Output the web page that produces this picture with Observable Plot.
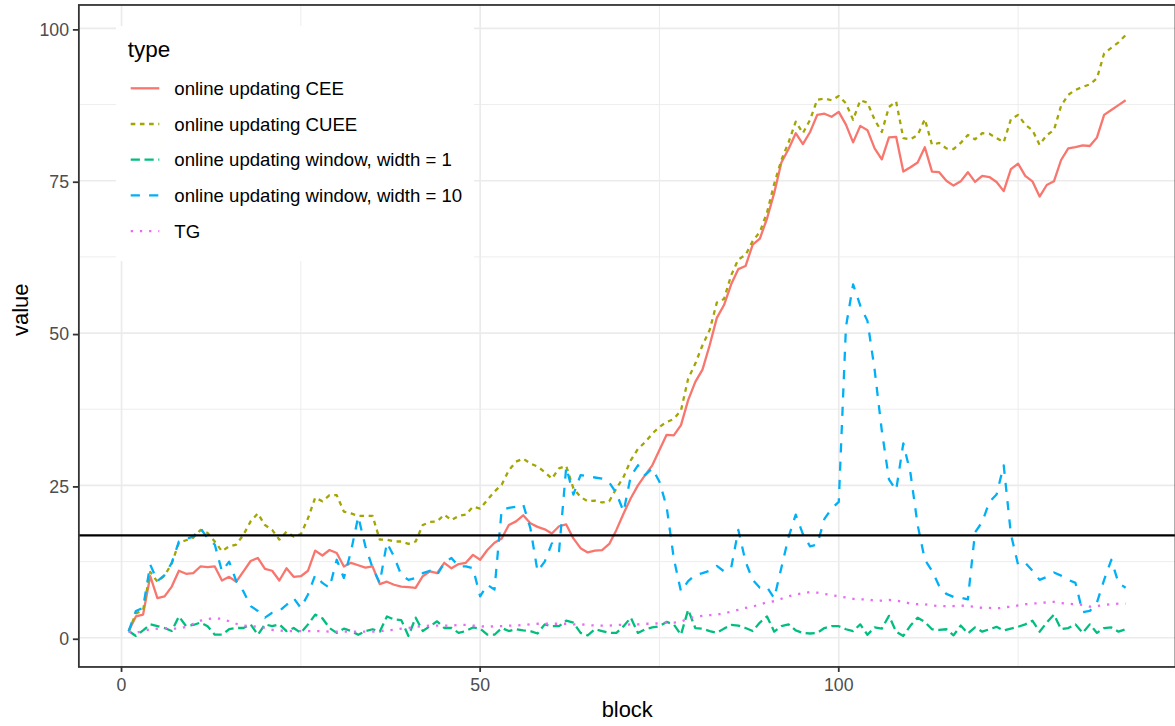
<!DOCTYPE html>
<html>
<head>
<meta charset="utf-8">
<script src="https://cdn.jsdelivr.net/npm/d3@7"></script>
<script src="https://cdn.jsdelivr.net/npm/@observablehq/plot@0.6"></script>
<style>
  html, body { margin: 0; padding: 0; background: #fff; overflow: hidden; }
  #chart { position: relative; width: 1175px; height: 726px; overflow: hidden; background: #fff; }
  #legend { position: absolute; left: 116px; top: 26px; }
</style>
</head>
<body>
<div id="chart"></div>
<script>
// ---- data -------------------------------------------------------------
const blocks = d3.range(1, 141);

const types = [
  "online updating CEE",
  "online updating CUEE",
  "online updating window, width = 1",
  "online updating window, width = 10",
  "TG"
];

const cee = [1.1,3.5,3.8,10.1,6.5,6.8,8.4,11,10.5,10.6, 11.7,11.6,11.7,9.4,10,9.2,10.9,12.6,13.1,11.3,
  11,9.4,11.4,10,10.1,11,14.3,13.5,14.4,13.9, 11.7,12.3,11.9,11.5,11.7,8.8,9.2,8.7,8.4,8.3,
  8.2,10.1,10.9,10.6,12.3,11.4,12.1,12.3,13.6,12.8, 14.4,15.6,16.3,18.5,19.1,20.1,18.8,18.2,17.8,17.1,
  18.3,18.6,16.3,14.7,14,14.3,14.4,15.4,17.7,20.4, 22.9,25,26.7,28.3,30.8,33.3,33.2,34.9,39,42,
  44,48,52.5,54.6,58,60.5,61,64.5,65.5,68.8, 73,78,80.2,82.8,81,83,85.8,86,85.5,86.3,
  84.2,81.3,84,83.3,80.3,78.5,82.1,82.2,76.5,77.2, 78,80.5,76.5,76.4,75,74.2,74.9,76.4,74.8,75.8,
  75.6,74.8,73.3,76.9,77.8,75.8,74.9,72.4,74.3,74.9, 78.4,80.3,80.5,80.8,80.7,82.1,85.8,86.6,87.4,88.2];

const cuee = [1.1,4.0,4.5,10.8,9.2,10.2,12.2,15.6,16,16.4, 17.7,17.2,15.8,14.2,15,15.3,16.9,19.1,20.4,18.5,
  17.7,16.1,17.4,16.6,17,19.6,23,22.4,23.4,23.4, 20.7,20.4,20,20,20,16.1,16.1,15.8,15.8,15.4,
  15.8,18.5,19,19.1,20.2,19.3,20,20.2,21.5,21.2, 22.6,24,25.1,27.5,28.9,29.4,28.6,28.1,27.2,26.1,
  27.8,28.2,24.5,23.1,22.4,22.5,22.2,22.4,24.5,26.4, 29.1,31,32.1,33.5,34.6,35.4,35.9,37.3,42.5,45,
  48,50.5,55,55.6,59.5,62.1,62.8,65.1,66.6,69.8, 74.5,78.4,81.3,84.7,82.8,85,88.3,88.5,88.2,88.9,
  87.7,85,88.2,87.8,85,83,87.1,88,82,81.8, 82.5,85.1,80.9,81.2,80.3,80.2,81.2,82.5,81.8,82.8,
  82.7,82,81.3,85.1,85.8,84.2,83.3,80.9,82.5,83.3, 87.3,89.1,89.9,90.4,90.8,91.8,95.9,96.8,97.7,98.9];

const window1 = [1.1,0.3,1.2,2.2,1.9,1.6,1.1,3.5,1.9,2.1, 2.5,1.9,0.5,0.5,1.4,1.6,1.6,2.2,0.5,2.2,
  1.9,2.2,1.1,1.6,0.8,2.2,3.8,3.2,1.6,0.8, 1.5,1.1,0.5,1.1,1.4,1.0,3.5,3.0,2.9,0.3,
  3.3,1.1,1.9,2.7,1.6,1.6,0.8,1.1,1.7,1.5, 0.5,0.5,1.6,1.1,1.4,1.2,1.1,0.7,2.2,1.9,
  1.9,2.8,2.5,0.8,0.4,1.4,1.1,0.8,0.8,1.9, 3.3,0.8,1.4,1.7,1.9,2.6,2.2,0.5,4.6,1.6,
  1.5,1.1,0.8,1.5,2.1,2.0,1.6,1.1,2.5,3.5, 1.0,1.9,2.2,1.2,0.8,0.7,0.8,1.6,1.9,1.9,
  1.4,1.1,2.2,0.5,1.7,1.5,3.6,1.0,0.3,2.0, 3.3,2.6,1.4,1.3,1.4,0.4,2.0,0.7,1.7,1.0,
  1.4,1.8,1.2,1.5,1.8,2.2,2.8,1.0,2.5,3.8, 1.4,1.6,2.2,0.8,2.2,0.8,1.6,1.7,1.0,1.4];

const window10 = [1.1,4.4,4.9,12,9.3,10.3,12.3,15.8,16.2,16.6, 18,16.3,15.3,10.9,12.5,9.3,7.6,5.2,4.4,3.3,
  4.1,4.4,5.4,6.5,4.9,7.1,10.3,9,8.2,12.8, 9.8,14.2,19.9,15,11.5,9,15.6,13.3,10.3,9.5,
  9.8,10.6,11,10.3,12.3,13.1,11.7,11.7,11.4,6.8, 8.7,7.9,21,21.3,21.5,21.9,18,10.9,12.5,15.5,
  14.2,28,23.5,26.7,26.5,26.3,26.1,25.5,23.7,20.7, 26.5,28.3,26.7,27.8,25.6,21.5,13,7.6,9.3,10.3,
  10.6,11,11.8,10.9,11.5,17.7,12.5,9.5,8.2,8.3, 6.5,11.5,16.5,20.2,17,15,15.3,19.5,21.2,22.3,
  51,58,54.5,52,44,34,26,24.2,31.9,27, 18.5,12.8,11,8.5,7.2,6.7,6.6,6.3,17.3,19,
  22.3,23.5,28.3,17,12,12.3,11,9.5,10,10.7, 10.2,9.5,9,4.2,4.4,5.8,9.5,12.8,9,8.2];

const tg = [1.0,0.8,1.1,1.4,1.5,1.6,1.5,1.5,1.8,2.3, 2.8,3.1,3.2,3.1,2.7,2.3,2.0,1.9,1.8,1.6,
  1.3,1.2,1.1,1.1,1.1,1.1,1.1,1.1,1.0,1.0, 1.0,1.0,1.0,1.0,1.0,1.1,1.2,1.3,1.5,1.6,
  1.8,1.9,2.0,2.0,2.0,2.0,2.1,2.1,2.0,1.9, 1.8,1.9,1.9,2.0,2.0,2.1,2.2,2.3,2.3,2.3,
  2.3,2.3,2.2,2.2,2.1,2.0,2.0,2.0,2.1,2.1, 2.2,2.2,2.3,2.3,2.4,2.5,2.5,2.6,3.2,3.4,
  3.6,3.7,3.8,4.0,4.3,4.6,4.9,5.1,5.5,5.8, 6.0,6.4,6.8,7.1,7.3,7.5,7.4,7.2,7.0,6.8,
  6.6,6.4,6.3,6.3,6.1,6.1,6.2,6.1,5.9,5.6, 5.5,5.5,5.3,5.2,5.2,5.2,5.3,5.2,5.1,4.9,
  4.9,4.8,5.0,5.1,5.3,5.5,5.6,5.7,5.8,5.9, 5.7,5.6,5.5,5.4,5.1,5.2,5.4,5.5,5.6,5.6];

const threshold = 16.8;

const xTicks = [0, 50, 100];
const xMinor = [25, 75, 125];
const yTicks = [0, 25, 50, 75, 100];
const yMinor = [12.5, 37.5, 62.5, 87.5];

// ---- long table -------------------------------------------------------
const seriesValues = [cee, cuee, window1, window10, tg];
const rows = types.flatMap((type, i) =>
  blocks.map((block, j) => ({block, value: seriesValues[i][j], type})));

// ---- styling (ggplot2 hue palette and default linetypes) --------------
const lw = 2.3;
const palette = ["#F8766D", "#A3A500", "#00BF7D", "#00B0F6", "#E76BF3"];
const dashes = [
  null,
  `${2 * lw} ${2 * lw}`,
  `${4 * lw} ${2 * lw}`,
  `${4 * lw} ${4 * lw}`,
  `${1 * lw} ${3 * lw}`
];
const font = "'Liberation Sans', Arial, Helvetica, sans-serif";

const lineMarks = types.map((t, i) =>
  Plot.line(rows.filter(d => d.type === t), {
    x: "block", y: "value", stroke: "type",
    strokeWidth: lw, strokeLinecap: "butt", strokeLinejoin: "round",
    strokeDasharray: dashes[i] ?? undefined
  }));

const chart = Plot.plot({
  width: 1180,
  height: 726,
  marginLeft: 78.7,
  marginRight: 0,
  marginTop: 4.5,
  marginBottom: 56.7,
  style: {fontFamily: font, background: "white"},
  x: {domain: [-5.95, 146.95], axis: null},
  y: {domain: [-4.79, 103.84], axis: null},
  color: {domain: types, range: palette},
  marks: [
    Plot.ruleX(xMinor, {stroke: "#ebebeb", strokeWidth: 0.9}),
    Plot.ruleY(yMinor, {stroke: "#ebebeb", strokeWidth: 0.9}),
    Plot.ruleX(xTicks, {stroke: "#ebebeb", strokeWidth: 1.7}),
    Plot.ruleY(yTicks, {stroke: "#ebebeb", strokeWidth: 1.7}),
    ...lineMarks,
    Plot.ruleY([threshold], {stroke: "black", strokeWidth: lw}),
    Plot.frame({stroke: "#333333", strokeWidth: 1.8}),
    Plot.axisX(xTicks, {
      anchor: "bottom", tickSize: 5.5, tickPadding: 5.5, fontSize: 17.8,
      stroke: "#333333", fill: "#4d4d4d", strokeWidth: 1.8, label: null
    }),
    Plot.axisY(yTicks, {
      anchor: "left", tickSize: 5.5, tickPadding: 4.4, fontSize: 17.8, dy: 1.5,
      stroke: "#333333", fill: "#4d4d4d", strokeWidth: 1.8, label: null
    }),
    Plot.text(["block"], {
      frameAnchor: "bottom", lineAnchor: "top", dy: 35, fontSize: 22, fill: "black"
    }),
    Plot.text(["value"], {
      frameAnchor: "left", lineAnchor: "middle", rotate: -90, dx: -58.5,
      fontSize: 22, fill: "black"
    })
  ]
});

const host = document.getElementById("chart");
host.appendChild(chart);

// ---- legend (inside the panel, top left) -------------------------------
const legend = d3.create("svg")
  .attr("id", "legend")
  .attr("width", 358)
  .attr("height", 235)
  .style("font-family", font);

legend.append("rect")
  .attr("width", 358).attr("height", 235).attr("fill", "white");

legend.append("text")
  .attr("x", 11.7).attr("y", 31.3)
  .attr("font-size", 22.5).attr("fill", "black")
  .text("type");

const entry = legend.selectAll("g.entry")
  .data(types)
  .join("g")
  .attr("class", "entry")
  .attr("transform", (d, i) => `translate(0, ${62.3 + i * 35.7})`);

entry.append("line")
  .attr("x1", 14.7).attr("x2", 43.3).attr("y1", 0).attr("y2", 0)
  .attr("stroke", (d, i) => palette[i])
  .attr("stroke-width", lw)
  .attr("stroke-linecap", "butt")
  .attr("stroke-dasharray", (d, i) => dashes[i]);

entry.append("text")
  .attr("x", 58.3).attr("y", 6.7)
  .attr("font-size", 18.6).attr("fill", "black")
  .text(d => d);

host.appendChild(legend.node());
</script>
</body>
</html>
